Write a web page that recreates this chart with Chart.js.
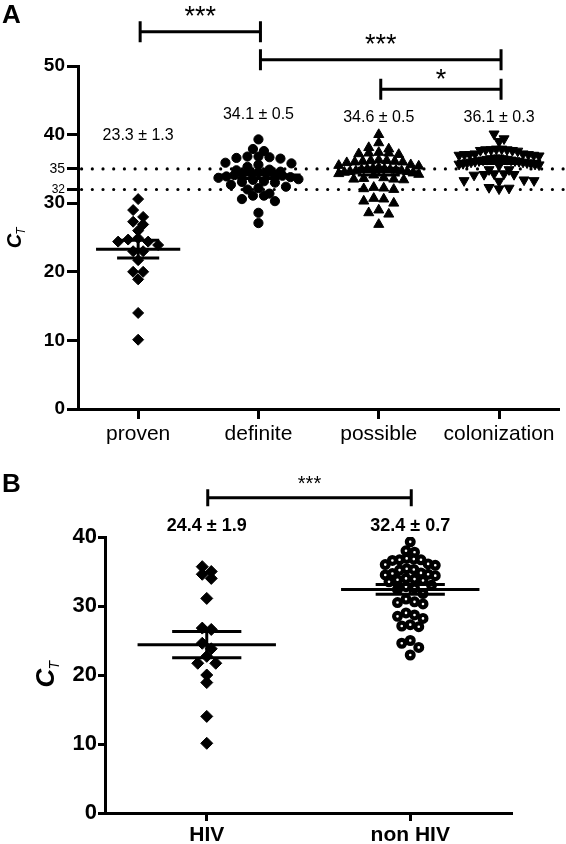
<!DOCTYPE html>
<html>
<head>
<meta charset="utf-8">
<script src="https://cdn.jsdelivr.net/npm/chart.js@4.4.1/dist/chart.umd.min.js"></script>
<style>
  html, body { margin: 0; padding: 0; background: #fff; }
  #wrap { position: relative; width: 566px; height: 844px; }
  canvas { position: absolute; left: 0; }
  #chartA { top: 0; }
  #chartB { top: 450px; }
</style>
</head>
<body>
<div id="wrap">
  <canvas id="chartA" width="566" height="450"></canvas>
  <canvas id="chartB" width="566" height="394"></canvas>
</div>
<script>
/******************************************************
 * DATA
 ******************************************************/
// panel A
const catsA = ["proven", "definite", "possible", "colonization"];
const provenCt = [30.6, 29.0, 28.0, 27.3, 26.9, 26.0, 24.9, 24.7, 24.4, 24.4, 23.9, 23.0, 23.0,
  21.7, 20.0, 20.0, 18.9, 14.0, 10.1];
const definiteCt = [39.3, 37.9, 37.6, 36.8, 36.8, 36.7, 36.6, 36.5, 35.9, 35.8, 35.6, 35.3, 34.9,
  34.8, 34.6, 34.5, 34.5, 34.4, 34.3, 34.2, 34.1, 34.0, 33.9, 33.8, 33.7, 33.5, 33.4, 33.2, 33.1,
  33.0, 32.7, 32.4, 32.2, 32.0, 31.4, 31.1, 31.1, 30.6, 30.3, 28.6, 27.1];
const possibleCt = [40.0, 38.8, 38.1, 37.9, 37.4, 37.3, 37.3, 37.2, 37.1, 36.3, 36.2, 36.2, 36.1,
  36.1, 36.0, 36.0, 35.9, 35.6, 35.5, 35.4, 35.2, 35.1, 35.0, 35.0, 34.9, 34.9, 34.8, 34.7, 34.7,
  34.6, 34.6, 34.5, 34.4, 34.3, 34.2, 34.1, 33.7, 33.6, 33.5, 33.5, 33.4, 32.3, 32.2, 32.1, 32.0,
  30.7, 30.6, 30.3, 30.0, 29.0, 28.6, 28.4, 26.9];
const colonizationCt = [40.1, 39.4, 39.0, 37.9, 37.9, 37.8, 37.8, 37.8, 37.7, 37.7, 37.6, 37.2,
  37.2, 37.1, 37.1, 37.1, 37.0, 37.0, 36.9, 36.6, 36.6, 36.5, 36.5, 36.4, 36.4, 36.3, 36.3, 36.2,
  36.2, 36.1, 36.1, 36.0, 36.0, 35.9, 35.9, 35.8, 35.8, 35.7, 35.7, 35.6, 35.5, 34.9, 34.9, 34.3,
  34.3, 34.2, 34.2, 34.1, 33.4, 33.3, 33.3, 33.2, 32.3, 32.2, 32.1];
const meansA = [23.3, 34.1, 34.6, 36.1];
const semsA = [1.3, 0.5, 0.5, 0.3];
const statLabelsA = ["23.3 \u00b1 1.3", "34.1 \u00b1 0.5", "34.6 \u00b1 0.5", "36.1 \u00b1 0.3"];
const yTicksA = [0, 10, 20, 30, 32, 35, 40, 50];
const cutoffsA = [32, 35];
const sigA = [[0, 1, "***"], [1, 3, "***"], [2, 3, "*"]];

// panel B
const catsB = ["HIV", "non HIV"];
const hivCt = [35.7, 35.0, 34.6, 34.0, 31.1, 26.8, 26.6, 24.6, 23.8, 22.7, 21.7, 21.7, 20.0,
  18.9, 14.0, 10.1];
const nonHivCt = [39.3, 38.0, 37.8, 36.9, 36.8, 36.7, 36.7, 36.6, 36.1, 36.0, 35.9, 35.4, 35.3,
  35.2, 34.8, 34.7, 34.6, 34.5, 34.4, 34.0, 33.9, 33.8, 33.7, 33.5, 33.0, 32.8, 32.6, 32.4, 31.8,
  31.0, 30.6, 30.5, 30.3, 29.0, 28.7, 28.5, 28.2, 27.3, 27.1, 27.0, 25.0, 24.6, 24.0, 22.9];
const meansB = [24.4, 32.4];
const semsB = [1.9, 0.7];
const statLabelsB = ["24.4 \u00b1 1.9", "32.4 \u00b1 0.7"];
const yTicksB = [0, 10, 20, 30, 40];
const sigB = [[0, 1, "***"]];

const FONT = "Arial, 'Liberation Sans', Helvetica, sans-serif";


/******************************************************
 * HELPERS
 ******************************************************/
// rows of points side by side (Prism style scatter dot plot), in pixels
function swarm(pys, rowPx, stepPx, maxHalf) {
  const idx = pys.map((p, i) => i).sort((a, b) => pys[a] - pys[b]);
  const offs = new Array(pys.length).fill(0);
  let row = [];
  const flush = () => {
    const n = row.length;
    const step = n > 1 ? Math.min(stepPx, 2 * maxHalf / (n - 1)) : 0;
    const slots = row.map((r, k) => k - (n - 1) / 2).sort((a, b) => Math.abs(a) - Math.abs(b) || a - b);
    row.forEach((i, k) => { offs[i] = slots[k] * step; });
    row = [];
  };
  idx.forEach(i => {
    if (row.length && pys[i] - pys[row[0]] > rowPx) flush();
    row.push(i);
  });
  flush();
  return offs;
}

function applySwarm(chart, groups, rowPx, steps, maxHalf) {
  const xs = chart.scales.x, ys = chart.scales.y;
  const pxPerCat = xs.getPixelForValue(1) - xs.getPixelForValue(0);
  groups.forEach((vals, g) => {
    const offs = swarm(vals.map(v => ys.getPixelForValue(v)), rowPx, steps[g], maxHalf[g]);
    chart.data.datasets[g].data = vals.map((v, i) => ({ x: g + offs[i] / pxPerCat, y: v }));
  });
  chart.update();
}

function meanBars(means, sems, halfMean, halfSem) {
  const segs = [];
  means.forEach((m, i) => {
    segs.push([[i - halfMean, m], [i + halfMean, m]]);
    segs.push([[i - halfSem, m + sems[i]], [i + halfSem, m + sems[i]]]);
    segs.push([[i - halfSem, m - sems[i]], [i + halfSem, m - sems[i]]]);
    segs.push([[i, m - sems[i]], [i, m + sems[i]]]);
  });
  return segs.map(s => ({
    type: "line",
    data: s.map(p => ({ x: p[0], y: p[1] })),
    borderColor: "#000",
    borderWidth: 3,
    pointRadius: 0,
    order: 0
  }));
}

function pointSet(vals, g, style, radius, rotation, fill, border) {
  return {
    data: vals.map(v => ({ x: g, y: v })),
    pointStyle: style,
    pointRadius: radius,
    rotation: rotation,
    backgroundColor: fill,
    borderColor: "#000",
    borderWidth: border,
    order: 5
  };
}

function drawCT(ctx, cx, cy, sizeC, sizeT) {
  ctx.save();
  ctx.translate(cx, cy);
  ctx.rotate(-Math.PI / 2);
  ctx.fillStyle = "#000";
  ctx.textBaseline = "alphabetic";
  ctx.textAlign = "left";
  ctx.font = "italic bold " + sizeC + "px " + FONT;
  const w = ctx.measureText("C").width;
  ctx.fillText("C", -w / 2, sizeC * 0.36);
  ctx.font = "italic " + sizeT + "px " + FONT;
  ctx.fillText("T", w / 2 - 1, sizeC * 0.36 + sizeT * 0.35);
  ctx.restore();
}

const annotPlugin = {
  id: "annot",
  afterDraw(chart, args, o) {
    const { ctx, scales: { x, y } } = chart;
    ctx.save();
    ctx.fillStyle = "#000";
    ctx.strokeStyle = "#000";

    ctx.font = "bold 26px " + FONT;
    ctx.textAlign = "left";
    ctx.textBaseline = "top";
    ctx.fillText(o.letter, 2, o.letterTop);

    drawCT(ctx, o.ctX, o.ctY, o.ctSize, o.ctSub);

    o.sig.forEach((b, k) => {
      const x1 = x.getPixelForValue(b[0]) + o.bracketShift;
      const x2 = x.getPixelForValue(b[1]) + o.bracketShift;
      const yy = y.getPixelForValue(o.bracketY[k]);
      ctx.lineWidth = 3;
      ctx.beginPath();
      ctx.moveTo(x1, yy - o.cap); ctx.lineTo(x1, yy + o.cap);
      ctx.moveTo(x1, yy); ctx.lineTo(x2, yy);
      ctx.moveTo(x2, yy - o.cap); ctx.lineTo(x2, yy + o.cap);
      ctx.stroke();
      ctx.font = o.starFont;
      ctx.textAlign = "center";
      ctx.textBaseline = "middle";
      ctx.fillText(b[2], (x1 + x2) / 2, y.getPixelForValue(o.starY[k]));
    });

    ctx.font = o.statFont;
    ctx.textAlign = "center";
    ctx.textBaseline = "middle";
    o.stats.forEach((t, i) => {
      ctx.fillText(t, x.getPixelForValue(i), y.getPixelForValue(o.statY[i]));
    });
    ctx.restore();
  }
};


/******************************************************
 * PANEL A
 ******************************************************/
const chartA = new Chart(document.getElementById("chartA"), {
  type: "scatter",
  data: {
    datasets: [
      pointSet(provenCt, 0, "rectRot", 5.5, 0, "#000", 1),
      pointSet(definiteCt, 1, "circle", 4.6, 0, "#000", 1),
      pointSet(possibleCt, 2, "triangle", 5.8, 0, "#000", 1),
      pointSet(colonizationCt, 3, "triangle", 5.8, 180, "#000", 1),
      ...meanBars(meansA, semsA, 0.35, 0.175),
      ...cutoffsA.map(c => ({
        type: "line",
        data: [{ x: -0.47, y: c }, { x: 3.55, y: c }],
        borderColor: "#000",
        borderWidth: 3.2,
        borderDash: [0, 10.7],
        borderCapStyle: "round",
        pointRadius: 0,
        clip: false,
        order: 20
      }))
    ]
  },
  options: {
    responsive: false,
    animation: false,
    devicePixelRatio: 1,
    layout: { padding: { top: 66, right: 6, left: 0, bottom: 0 } },
    scales: {
      x: {
        type: "linear",
        min: -0.5,
        max: 3.5,
        afterBuildTicks: s => { s.ticks = catsA.map((c, i) => ({ value: i })); },
        afterFit: s => { s.height = 41; },
        ticks: {
          callback: v => catsA[v],
          color: "#000",
          padding: 3,
          font: { family: FONT, size: 21 }
        },
        grid: { drawOnChartArea: false, drawTicks: true, tickLength: 10, tickWidth: 3, tickColor: "#000" },
        border: { display: true, color: "#000", width: 3 }
      },
      y: {
        min: 0,
        max: 50,
        afterBuildTicks: s => { s.ticks = yTicksA.map(v => ({ value: v })); },
        afterFit: s => { s.width = 78; },
        ticks: {
          autoSkip: false,
          color: "#000",
          padding: 2,
          font: c => {
            const v = c.tick ? c.tick.value : 0;
            if (v === 35) return { family: FONT, size: 14 };
            if (v === 32) return { family: FONT, size: 12 };
            return { family: FONT, size: 19, weight: "bold" };
          }
        },
        grid: { drawOnChartArea: false, drawTicks: true, tickLength: 11, tickWidth: 3, tickColor: "#000" },
        border: { display: true, color: "#000", width: 3 }
      }
    },
    plugins: {
      legend: { display: false },
      tooltip: { enabled: false },
      annot: {
        letter: "A", letterTop: 3,
        ctX: 14, ctY: 241, ctSize: 20, ctSub: 12,
        sig: sigA, bracketShift: 2, cap: 10.5,
        bracketY: [55.0, 50.9, 46.6],
        starY: [57.0, 53.0, 47.9],
        starFont: "27px " + FONT,
        stats: statLabelsA,
        statY: [39.9, 42.9, 42.5, 42.5],
        statFont: "16px " + FONT
      }
    }
  },
  plugins: [annotPlugin]
});
applySwarm(chartA, [provenCt, definiteCt, possibleCt, colonizationCt], 7, [10, 11, 10, 10], [40, 40, 40, 40]);


/******************************************************
 * PANEL B
 ******************************************************/
const chartB = new Chart(document.getElementById("chartB"), {
  type: "scatter",
  data: {
    datasets: [
      pointSet(hivCt, 0, "rectRot", 6, 0, "#000", 1),
      pointSet(nonHivCt, 1, "circle", 3.4, 0, "#fff", 4.2),
      ...meanBars(meansB, semsB, 0.34, 0.17)
    ]
  },
  options: {
    responsive: false,
    animation: false,
    devicePixelRatio: 1,
    layout: { padding: { top: 87, right: 54, left: 0, bottom: 0 } },
    scales: {
      x: {
        type: "linear",
        min: -0.5,
        max: 1.5,
        afterBuildTicks: s => { s.ticks = catsB.map((c, i) => ({ value: i })); },
        afterFit: s => { s.height = 31; },
        ticks: {
          callback: v => catsB[v],
          color: "#000",
          padding: 2,
          font: { family: FONT, size: 21, weight: "bold" }
        },
        grid: { drawOnChartArea: false, drawTicks: true, tickLength: 8, tickWidth: 3, tickColor: "#000" },
        border: { display: true, color: "#000", width: 3 }
      },
      y: {
        min: 0,
        max: 40,
        afterBuildTicks: s => { s.ticks = yTicksB.map(v => ({ value: v })); },
        afterFit: s => { s.width = 105; },
        ticks: {
          autoSkip: false,
          color: "#000",
          padding: 1,
          font: { family: FONT, size: 22, weight: "bold" }
        },
        grid: { drawOnChartArea: false, drawTicks: true, tickLength: 7, tickWidth: 3, tickColor: "#000" },
        border: { display: true, color: "#000", width: 3 }
      }
    },
    plugins: {
      legend: { display: false },
      tooltip: { enabled: false },
      annot: {
        letter: "B", letterTop: 22,
        ctX: 45, ctY: 228, ctSize: 26, ctSub: 14,
        sig: sigB, bracketShift: 1, cap: 8.5,
        bracketY: [45.7],
        starY: [47.6],
        starFont: "20px " + FONT,
        stats: statLabelsB,
        statY: [41.6, 41.6],
        statFont: "bold 18px " + FONT
      }
    }
  },
  plugins: [annotPlugin]
});
applySwarm(chartB, [hivCt, nonHivCt], 7, [9, 8.5], [30, 25]);
</script>
</body>
</html>
